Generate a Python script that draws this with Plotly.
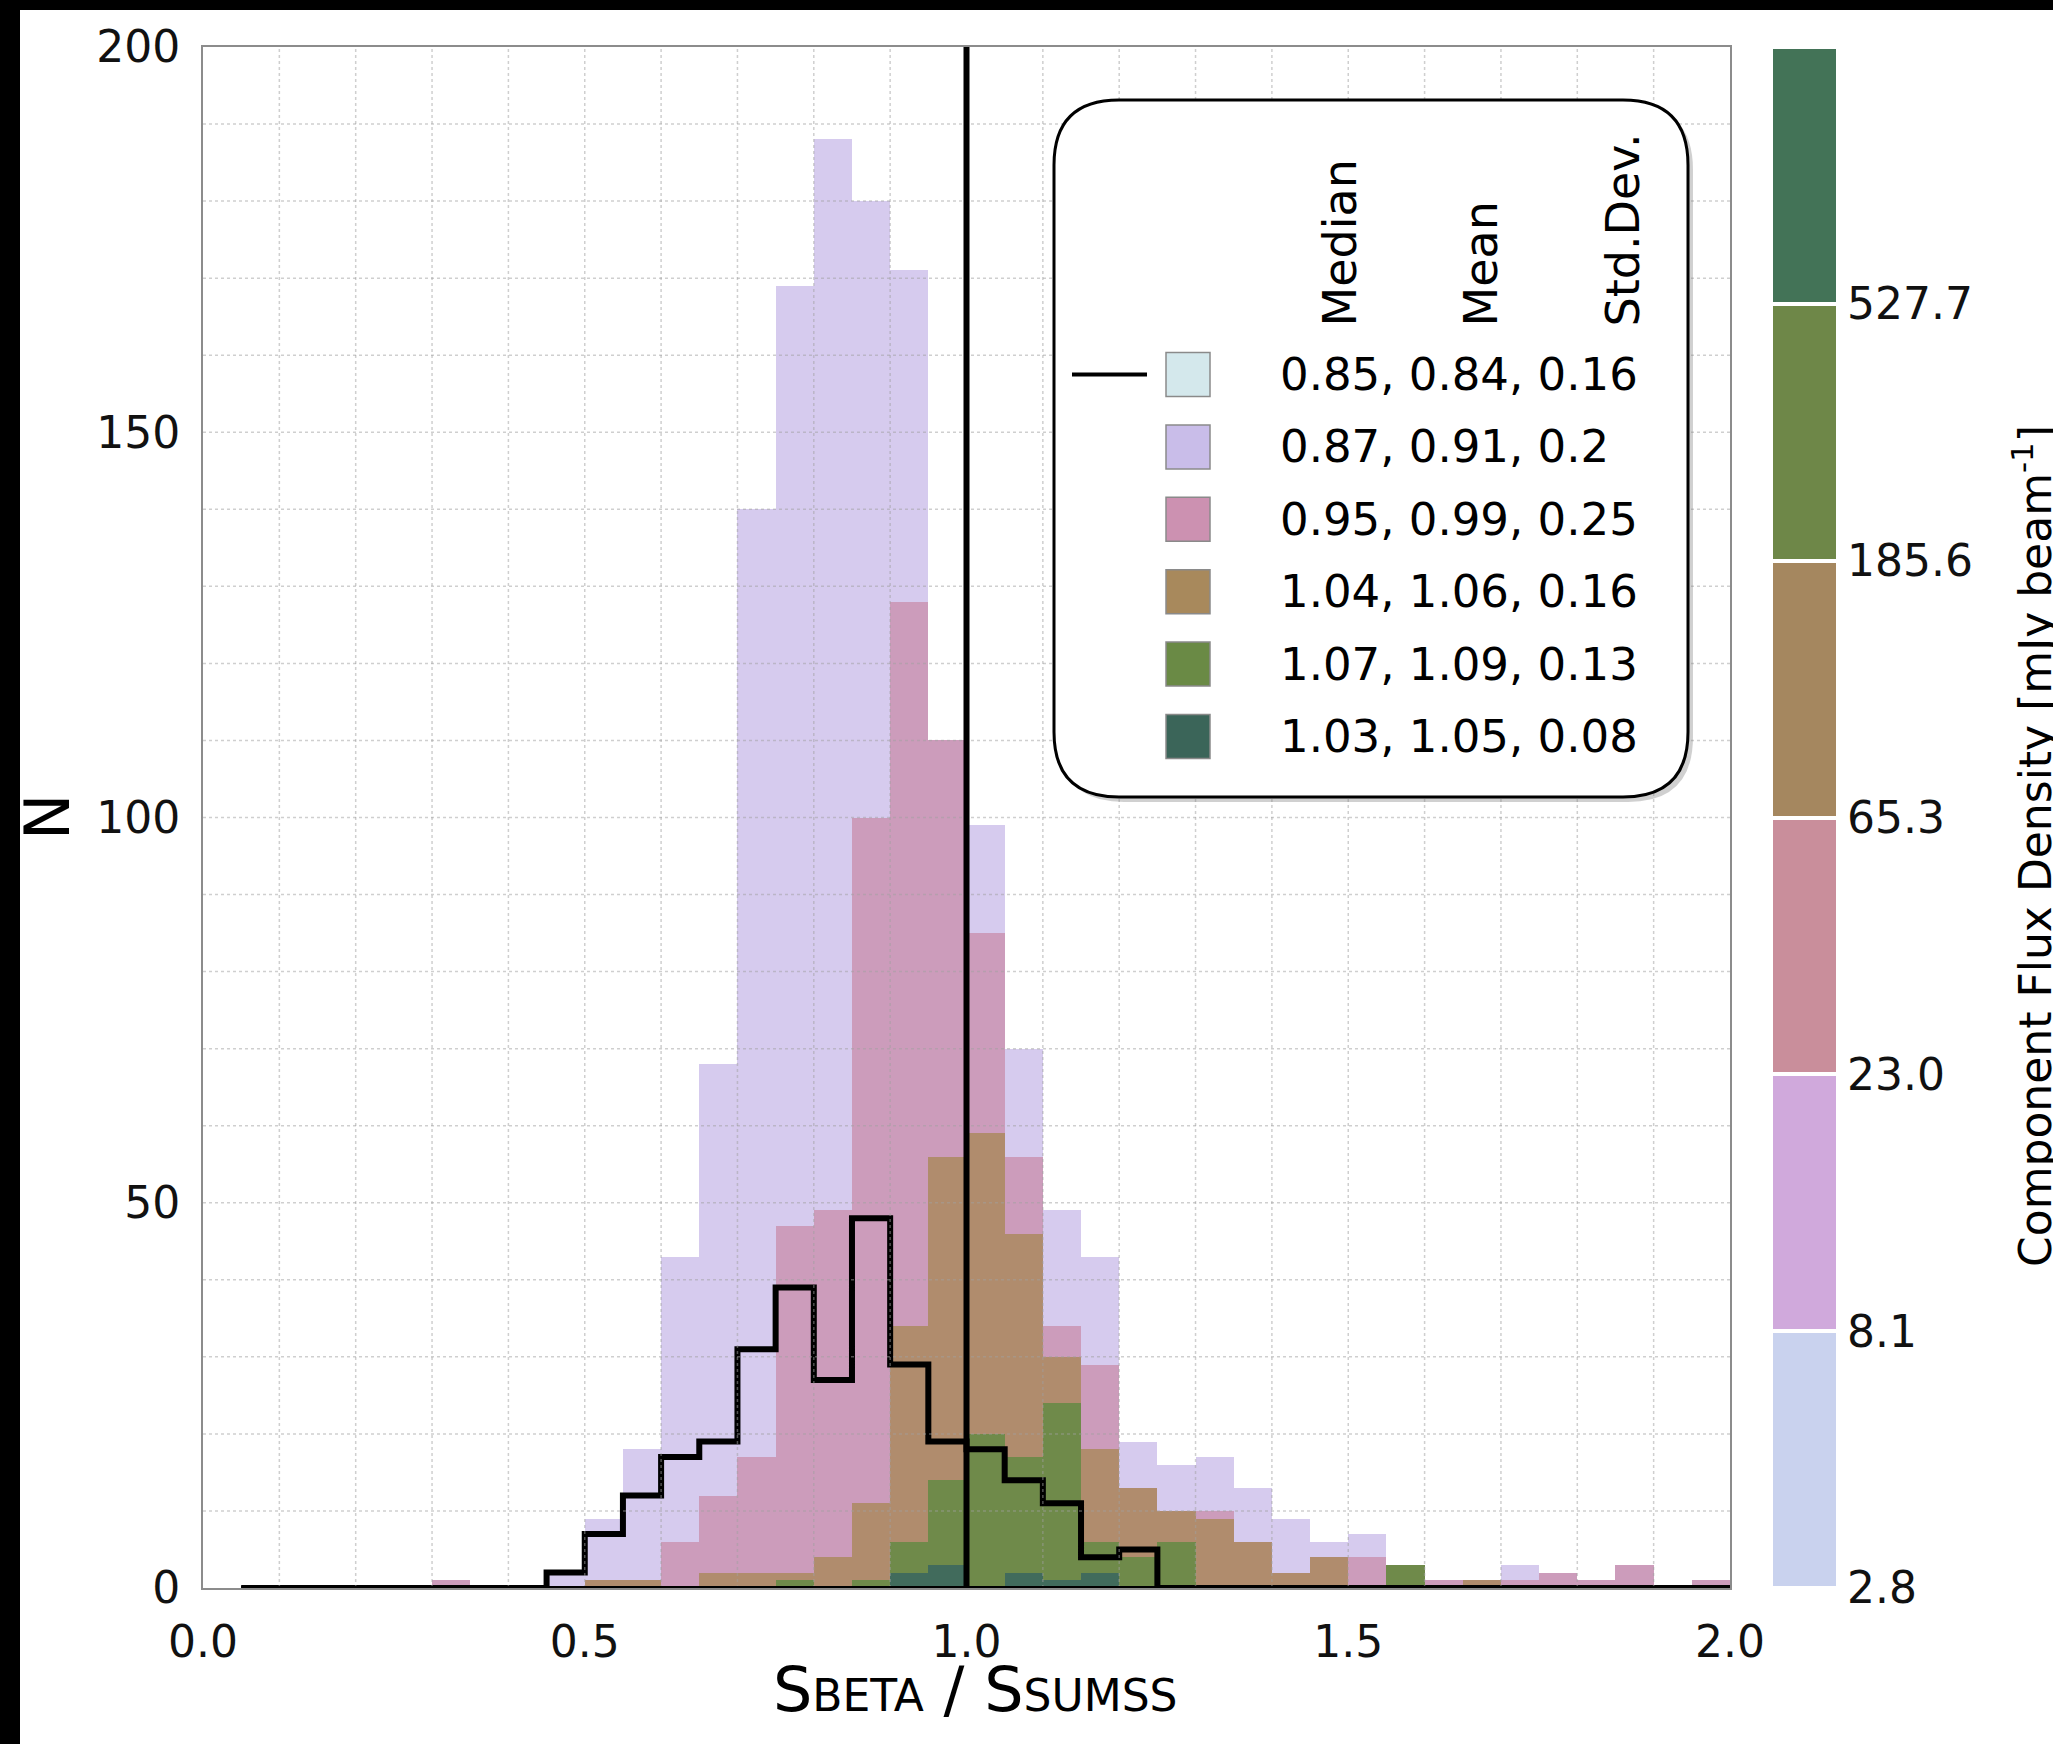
import plotly.graph_objects as go

# ---------------- data ----------------
bin_left = [0.00, 0.05, 0.10, 0.15, 0.20, 0.25, 0.30, 0.35, 0.40, 0.45,
            0.50, 0.55, 0.60, 0.65, 0.70, 0.75, 0.80, 0.85, 0.90, 0.95,
            1.00, 1.05, 1.10, 1.15, 1.20, 1.25, 1.30, 1.35, 1.40, 1.45,
            1.50, 1.55, 1.60, 1.65, 1.70, 1.75, 1.80, 1.85, 1.90, 1.95]
bin_width = 0.05

# counts per flux-density group (2.8-8.1 drawn as black step outline)
n_2p8 = [0, 0, 0, 0, 0, 0, 0, 0, 0, 2,
         7, 12, 17, 19, 31, 39, 27, 48, 29, 19,
         18, 14, 11, 4, 5, 0, 0, 0, 0, 0,
         0, 0, 0, 0, 0, 0, 0, 0, 0, 0]
n_8p1 = [0, 0, 0, 0, 0, 0, 0, 0, 0, 2,
         9, 18, 43, 68, 140, 169, 188, 180, 171, 108,
         99, 70, 49, 43, 19, 16, 17, 13, 9, 6,
         7, 2, 0, 0, 3, 0, 0, 0, 0, 0]
n_23 = [0, 0, 0, 0, 0, 0, 1, 0, 0, 0,
        0, 0, 6, 12, 17, 47, 49, 100, 128, 110,
        85, 56, 34, 29, 12, 10, 10, 2, 1, 2,
        4, 1, 1, 0, 1, 2, 1, 3, 0, 1]
n_65 = [0, 0, 0, 0, 0, 0, 0, 0, 0, 0,
        1, 1, 0, 2, 2, 2, 4, 11, 34, 56,
        59, 46, 30, 18, 13, 10, 9, 6, 2, 4,
        0, 0, 0, 1, 0, 0, 0, 0, 0, 0]
n_185 = [0, 0, 0, 0, 0, 0, 0, 0, 0, 0,
         0, 0, 0, 0, 0, 1, 0, 1, 6, 14,
         20, 17, 24, 6, 4, 6, 0, 0, 0, 0,
         0, 3, 0, 0, 0, 0, 0, 0, 0, 0]
n_527 = [0, 0, 0, 0, 0, 0, 0, 0, 0, 0,
         0, 0, 0, 0, 0, 0, 0, 0, 2, 3,
         0, 2, 1, 2, 0, 0, 0, 0, 0, 0,
         0, 0, 0, 0, 0, 0, 0, 0, 0, 0]

reference_ratio = 1.0
x_ticks = [0.0, 0.5, 1.0, 1.5, 2.0]
y_ticks = [0, 50, 100, 150, 200]

flux_bounds = ["2.8", "8.1", "23.0", "65.3", "185.6", "527.7"]

stat_median = [0.85, 0.87, 0.95, 1.04, 1.07, 1.03]
stat_mean = [0.84, 0.91, 0.99, 1.06, 1.09, 1.05]
stat_std = [0.16, 0.2, 0.25, 0.16, 0.13, 0.08]
stat_headers = ["Median", "Mean", "Std.Dev."]

# ---------------- styles ----------------
hist_colors = ["#d6cbee", "#cc9cbb", "#b08c6d", "#6f8a4a", "#416b5c"]
legend_colors = ["#d4e8ec", "#c9bde9", "#cc91b1", "#a8895c", "#6a8a45", "#3b6559"]
cbar_colors = ["#c9d2ee", "#d0a9dc", "#c98e9b", "#a5875f", "#6e8748", "#437357"]
FONT = "DejaVu Sans"

W, H = 2053, 1744
ML, MR, MT, MB = 203, 215, 47, 156
PW, PH = W - ML - MR, H - MT - MB


def px(x):
    return (x - ML) / PW


def py(y):
    return (H - MB - y) / PH


main_right = 1730
cb_left, cb_right = 1771, 1838

fig = go.Figure()

centers = [b + bin_width / 2 for b in bin_left]
for counts, color in zip([n_8p1, n_23, n_65, n_185, n_527], hist_colors):
    fig.add_trace(go.Bar(x=centers, y=counts, width=bin_width,
                         marker=dict(color=color, line=dict(width=0)),
                         showlegend=False, hoverinfo="skip"))

# black step outline for lowest-flux group
step_x = bin_left[1:] + [bin_left[-1] + bin_width]
step_y = n_2p8[1:] + [n_2p8[-1]]
fig.add_trace(go.Scatter(x=step_x, y=step_y, mode="lines", line_shape="hv",
                         line=dict(color="black", width=6),
                         showlegend=False, hoverinfo="skip", cliponaxis=False))

# colour bar built as stacked segments
fig.add_trace(go.Bar(x=[0] * len(cbar_colors), y=[1] * len(cbar_colors),
                     base=list(range(len(cbar_colors))), width=1,
                     marker=dict(color=cbar_colors, line=dict(color="white", width=4)),
                     xaxis="x2", yaxis="y2", showlegend=False, hoverinfo="skip"))

shapes = []
# dotted grid drawn above the bars (as in the reference)
gx = [round(0.1 * i, 1) for i in range(1, 20)]
gy = [10 * i for i in range(1, 20)]
for v in gx:
    shapes.append(dict(type="line", xref="x", yref="y", x0=v, x1=v, y0=0, y1=200,
                       line=dict(color="rgba(160,160,160,0.5)", width=1.5, dash="dot"),
                       layer="above"))
for v in gy:
    shapes.append(dict(type="line", xref="x", yref="y", x0=0, x1=2, y0=v, y1=v,
                       line=dict(color="rgba(160,160,160,0.5)", width=1.5, dash="dot"),
                       layer="above"))
# baseline part of the step outline (full thickness)
shapes.append(dict(type="line", xref="x", yref="y", x0=step_x[0], x1=step_x[-1], y0=0, y1=0,
                   line=dict(color="black", width=4), layer="above"))
# reference line at ratio 1
shapes.append(dict(type="line", xref="x", yref="y", x0=reference_ratio, x1=reference_ratio,
                   y0=0, y1=200, line=dict(color="black", width=6), layer="above"))

# legend box with rounded corners
bx0, bx1, by0, by1, r = 1054, 1688, 100, 797, 65


def rounded_path(x0, x1, y0, y1, r):
    p = lambda x, y: f"{px(x):.5f},{py(y):.5f}"
    return (f"M {p(x0 + r, y0)} L {p(x1 - r, y0)} Q {p(x1, y0)} {p(x1, y0 + r)} "
            f"L {p(x1, y1 - r)} Q {p(x1, y1)} {p(x1 - r, y1)} "
            f"L {p(x0 + r, y1)} Q {p(x0, y1)} {p(x0, y1 - r)} "
            f"L {p(x0, y0 + r)} Q {p(x0, y0)} {p(x0 + r, y0)} Z")


shapes.append(dict(type="path", xref="paper", yref="paper",
                   path=rounded_path(bx0 + 5, bx1 + 5, by0 + 5, by1 + 5, r),
                   fillcolor="rgba(120,120,120,0.35)", line=dict(width=0), layer="above"))
shapes.append(dict(type="path", xref="paper", yref="paper",
                   path=rounded_path(bx0, bx1, by0, by1, r),
                   fillcolor="white", line=dict(color="black", width=3), layer="above"))

row_y0, row_dy = 374.5, 72.4
annotations = []
for i, col in enumerate(legend_colors):
    yc = row_y0 + i * row_dy
    shapes.append(dict(type="rect", xref="paper", yref="paper",
                       x0=px(1166), x1=px(1210), y0=py(yc + 22), y1=py(yc - 22),
                       fillcolor=col, line=dict(color="#8a8a8a", width=1.5), layer="above"))
    annotations.append(dict(x=px(1278), y=py(yc), xref="paper", yref="paper",
                            xanchor="left", yanchor="middle", showarrow=False,
                            text=f"{stat_median[i]}, {stat_mean[i]}, {stat_std[i]}",
                            font=dict(family=FONT, size=45, color="black")))
shapes.append(dict(type="line", xref="paper", yref="paper",
                   x0=px(1072), x1=px(1147), y0=py(row_y0), y1=py(row_y0),
                   line=dict(color="black", width=4), layer="above"))

for hx, htxt in zip([1339, 1480, 1622], stat_headers):
    annotations.append(dict(x=px(hx), y=py(329), xref="paper", yref="paper",
                            xanchor="center", yanchor="bottom", textangle=-90,
                            showarrow=False, text=htxt,
                            font=dict(family=FONT, size=46, color="black")))

# black border strips at the top and left of the picture
shapes.append(dict(type="rect", xref="paper", yref="paper", x0=px(0), x1=px(W),
                   y0=py(10), y1=py(0), fillcolor="black", line=dict(width=0), layer="above"))
shapes.append(dict(type="rect", xref="paper", yref="paper", x0=px(0), x1=px(20),
                   y0=py(H), y1=py(0), fillcolor="black", line=dict(width=0), layer="above"))

# axis titles
annotations.append(dict(x=px(48), y=py(817), xref="paper", yref="paper",
                        xanchor="center", yanchor="middle", textangle=-90, showarrow=False,
                        text="N", font=dict(family=FONT, size=62, color="black")))
annotations.append(dict(x=px(975), y=py(1689), xref="paper", yref="paper",
                        xanchor="center", yanchor="middle", showarrow=False,
                        text="S<span style='font-size:44px'>BETA</span> / S<span style='font-size:44px'>SUMSS</span>",
                        font=dict(family=FONT, size=62, color="black")))
annotations.append(dict(x=px(2033), y=py(846), xref="paper", yref="paper",
                        xanchor="center", yanchor="middle", textangle=-90, showarrow=False,
                        text="Component Flux Density [mJy beam<sup>-1</sup>]",
                        font=dict(family=FONT, size=44, color="black")))

fig.update_layout(
    width=W, height=H, autosize=False,
    margin=dict(l=ML, r=MR, t=MT, b=MB, pad=0),
    paper_bgcolor="white", plot_bgcolor="white",
    barmode="overlay", bargap=0,
    showlegend=False,
    shapes=shapes, annotations=annotations,
    xaxis=dict(domain=[0, px(main_right)], range=[0, 2], tickvals=x_ticks,
               ticktext=[f"{v:.1f}" for v in x_ticks],
               showgrid=False, zeroline=False, showline=True, linecolor="#8c8c8c",
               linewidth=2, mirror=True, ticks="", ticklabelstandoff=14,
               tickfont=dict(family=FONT, size=44, color="#111111"), anchor="y"),
    yaxis=dict(domain=[0, 1], range=[0, 200], tickvals=y_ticks,
               showgrid=False, zeroline=False, showline=True, linecolor="#8c8c8c",
               linewidth=2, mirror=True, ticks="", ticklabelstandoff=12,
               tickfont=dict(family=FONT, size=44, color="#111111"), anchor="x"),
    xaxis2=dict(domain=[px(cb_left), px(cb_right)], range=[-0.5, 0.5], visible=False,
                anchor="y2"),
    yaxis2=dict(domain=[0, 1], range=[0, len(cbar_colors)], anchor="x2", side="right",
                tickvals=list(range(len(flux_bounds))), ticktext=flux_bounds,
                showgrid=False, zeroline=False, showline=False, ticks="",
                ticklabelstandoff=8,
                tickfont=dict(family=FONT, size=44, color="#111111")),
)

fig.write_html("out.html")
